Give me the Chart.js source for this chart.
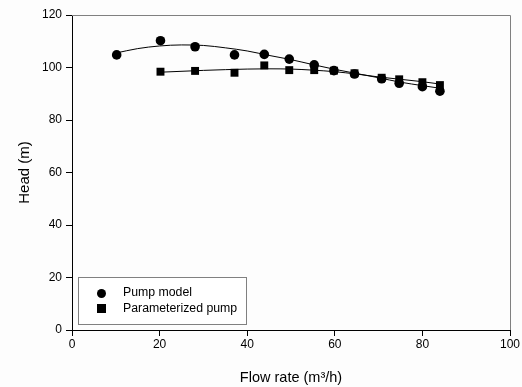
<!DOCTYPE html>
<html>
<head>
<meta charset="utf-8">
<script src="https://cdn.jsdelivr.net/npm/chart.js@4/dist/chart.umd.min.js"></script>
<style>
  html, body { margin: 0; padding: 0; background: #fdfdfd; }
  #wrap { width: 522px; height: 387px; }
</style>
</head>
<body>
<div id="wrap"><canvas id="c" width="522" height="387"></canvas></div>
<script>
// measured points
const pumpFlow = [10.2, 20.2, 28.1, 37.1, 43.9, 49.6, 55.3, 59.8, 64.5, 70.7, 74.7, 80.0, 84.0];
const pumpHead = [104.8, 110.2, 107.9, 104.8, 105.0, 103.2, 101.0, 98.8, 97.5, 95.7, 94.0, 92.7, 91.0];
const paramFlow = [20.2, 28.1, 37.1, 43.9, 49.6, 55.3, 59.8, 64.5, 70.7, 74.7, 80.0, 84.0];
const paramHead = [98.4, 98.7, 98.0, 100.8, 99.0, 99.0, 98.8, 97.8, 96.1, 95.5, 94.4, 93.3];

// fitted curves
const pumpFitFlow = [10, 15, 20, 25, 30, 35, 40, 45, 50, 55, 60, 65, 70, 75, 80, 84];
const pumpFitHead = [105.5, 107.2, 108.2, 108.6, 108.4, 107.5, 106.3, 104.6, 103.0, 101.1, 99.3, 97.7, 96.1, 94.4, 93.1, 92.1];
const paramFitFlow = [20, 30, 40, 45, 50, 55, 60, 65, 70, 75, 80, 84];
const paramFitHead = [98.2, 98.9, 99.4, 99.5, 99.4, 99.0, 98.4, 97.5, 96.4, 95.5, 94.6, 93.7];

const xTicks = [0, 20, 40, 60, 80, 100];
const yTicks = [0, 20, 40, 60, 80, 100, 120];

const legendItems = ['Pump model', 'Parameterized pump'];

function pts(xs, ys) {
  return xs.map((x, i) => ({ x: x, y: ys[i] }));
}

const FONT = 'Liberation Sans, Arial, sans-serif';

// frame + legend box inside the plot
const framePlugin = {
  id: 'frame',
  afterDraw(chart) {
    const a = chart.chartArea, ctx = chart.ctx;
    ctx.save();
    ctx.strokeStyle = '#808080';
    ctx.lineWidth = 1;
    ctx.beginPath();
    ctx.moveTo(a.left, a.top + 0.5);
    ctx.lineTo(a.right + 0.5, a.top + 0.5);
    ctx.lineTo(a.right + 0.5, a.bottom);
    ctx.stroke();

    // legend
    const bx = 78, by = 277, bw = 168, bh = 47;
    ctx.fillStyle = '#ffffff';
    ctx.fillRect(bx, by, bw, bh);
    ctx.strokeStyle = '#808080';
    ctx.strokeRect(bx + 0.5, by + 0.5, bw, bh);
    ctx.fillStyle = '#000';
    ctx.beginPath();
    ctx.arc(101.5, 293.5, 4.5, 0, Math.PI * 2);
    ctx.fill();
    ctx.fillRect(97, 304, 9, 9);
    ctx.font = '12.3px ' + FONT;
    ctx.textBaseline = 'middle';
    ctx.fillText(legendItems[0], 123, 293);
    ctx.fillText(legendItems[1], 123, 308.5);
    ctx.restore();
  }
};

new Chart(document.getElementById('c'), {
  type: 'scatter',
  data: {
    datasets: [
      {
        data: pts(pumpFitFlow, pumpFitHead),
        showLine: true, borderColor: '#000', borderWidth: 1,
        pointRadius: 0, cubicInterpolationMode: 'monotone'
      },
      {
        data: pts(paramFitFlow, paramFitHead),
        showLine: true, borderColor: '#000', borderWidth: 1,
        pointRadius: 0, cubicInterpolationMode: 'monotone'
      },
      {
        label: legendItems[0],
        data: pts(pumpFlow, pumpHead),
        pointStyle: 'circle', pointRadius: 4.8,
        backgroundColor: '#000', borderColor: '#000', borderWidth: 0
      },
      {
        label: legendItems[1],
        data: pts(paramFlow, paramHead),
        pointStyle: 'rect', pointRadius: 5.6,
        backgroundColor: '#000', borderColor: '#000', borderWidth: 0
      }
    ]
  },
  options: {
    responsive: false,
    animation: false,
    layout: { padding: { top: 15, right: 12, left: 0, bottom: 0 } },
    plugins: { legend: { display: false }, tooltip: { enabled: false } },
    scales: {
      x: {
        type: 'linear', min: 0, max: 100,
        afterBuildTicks: s => { s.ticks = xTicks.map(v => ({ value: v })); },
        afterFit: s => { s.height = 57; },
        grid: { drawOnChartArea: false, color: '#000', tickLength: 6 },
        border: { color: '#000' },
        ticks: { color: '#000', font: { family: FONT, size: 12 }, padding: 1, maxRotation: 0 },
        title: {
          display: true, color: '#000', font: { family: FONT, size: 14.5 },
          text: 'Flow rate (m\u00B3/h)', padding: { top: 10, bottom: 0 }
        }
      },
      y: {
        type: 'linear', min: 0, max: 120,
        afterBuildTicks: s => { s.ticks = yTicks.map(v => ({ value: v })); },
        afterFit: s => { s.width = 72; },
        grid: { drawOnChartArea: false, color: '#000', tickLength: 6 },
        border: { color: '#000' },
        ticks: { color: '#000', font: { family: FONT, size: 12 }, padding: 4 },
        title: {
          display: true, color: '#000', font: { family: FONT, size: 15 },
          text: 'Head (m)', padding: { top: 16, bottom: 0 }
        }
      }
    }
  },
  plugins: [framePlugin]
});
</script>
</body>
</html>
